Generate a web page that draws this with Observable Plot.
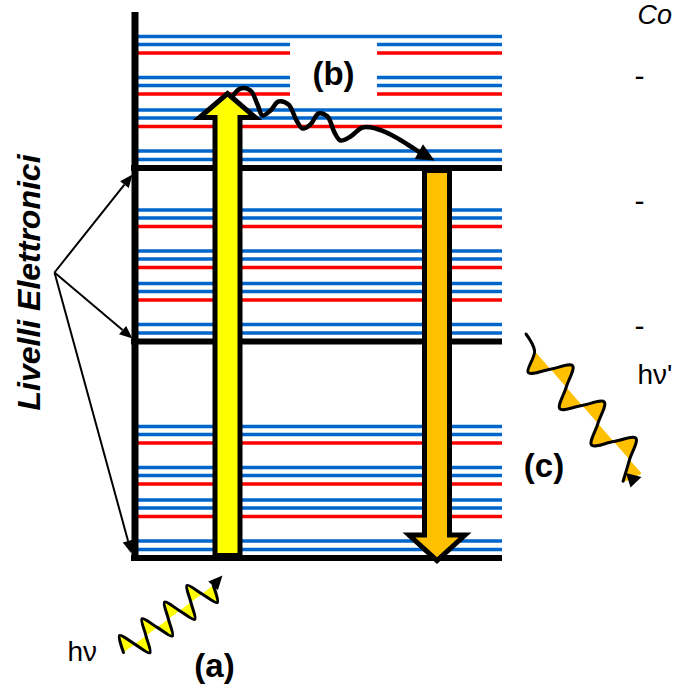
<!DOCTYPE html>
<html>
<head>
<meta charset="utf-8">
<script src="https://cdn.jsdelivr.net/npm/d3@7"></script>
<script src="https://cdn.jsdelivr.net/npm/@observablehq/plot@0.6"></script>
<style>
  html, body { margin: 0; padding: 0; background: #fff; overflow: hidden; }
  #chart svg { display: block; }
</style>
</head>
<body>
<div id="chart"></div>
<script>
// ---------- data (diagram units = pixels of the 679x685 canvas, y downward) ----------
const levelNames = ["S0", "S1", "S2"];
const levelY = [557.5, 341, 167.5];
const levelSpan = [131, 502];
const vibSpan = [137, 502];
const axisX = [134.5];
const axisSpan = [12, 560.5];

// vibrational sub-levels: distance above each electronic level
const vibOffsets = [8.5, 17, 41.5, 50, 58, 74, 82.5, 90.5, 115, 123.5, 131.5];
const vibKinds   = ["blue", "blue", "red", "blue", "blue", "red", "blue", "blue", "red", "blue", "blue"];

// label "Livelli Elettronici" and its pointers
const sideLabel = ["Livelli Elettronici"];
const sideLabelPos = [29, 282];
const pointerOrigin = [54, 272];
const pointerTips = [[132, 174], [132, 338], [131, 553]];

// absorption (yellow) and emission (orange) block arrows
const absorption = { x: 227, from: 555, to: 93 };
const emission = { x: 436.5, from: 170, to: 560 };

// (b) vibrational relaxation, wavy black arrow
const relaxPath = [[232, 96], [240, 88], [250, 90], [257, 104], [262, 115], [270, 110], [278, 101],
  [288, 104], [296, 120], [302, 128], [310, 124], [318, 113], [327, 116], [334, 132], [340, 140],
  [350, 136], [362, 127], [375, 128], [392, 135], [407, 144], [418, 151]];
const relaxTip = [434, 160];

// incoming photon hν (a)
const photonIn = [[123, 652], [119.1, 635.0], [134.2, 643.6], [149.4, 652.3], [145.5, 635.3],
  [141.5, 618.3], [156.7, 626.9], [171.9, 635.6], [167.9, 618.6], [164.0, 601.6], [179.1, 610.2],
  [194.3, 618.9], [190.4, 601.9], [186.4, 584.9], [201.6, 593.5], [216.8, 602.1], [212.8, 585.1]];
const photonInTip = [222, 575];

// emitted photon hν' (c)
const photonOut = [[525.5, 333.5], [534.1, 350.5], [527.7, 372.1], [549.9, 368.7], [572.1, 365.2],
  [565.7, 386.8], [559.3, 408.3], [581.5, 404.9], [603.8, 401.5], [597.4, 423.0], [591.0, 444.6],
  [613.2, 441.1], [635.4, 437.7], [629.0, 459.3], [622.6, 480.8]];
const photonOutAxisEnd = [641.1, 473.1];
const photonOutTip = [630, 487];

// text
const panelLabels = ["(a)", "(b)", "(c)"];
const panelX = [214, 333, 543.5];
const panelY = [676, 84, 476];
const photonLabels = ["hν", "hν'"];
const photonLabelX = [67, 637];
const photonLabelY = [660, 383];
const headingText = ["Co"];
const headingPos = [637, 23];
const bulletText = ["-", "-", "-"];
const bulletY = [85, 210, 335];
const whiteBox = [[290, 377, 39, 97]];

// ---------- helpers ----------
const FONT = "'Liberation Sans', Arial, Helvetica, sans-serif";
const BLUE = "#0066CC", RED = "#FF0000", YELLOW = "#FFFF00", ORANGE = "#FFC000";

function blockArrow(a, shaftHalf, headHalf, headLen) {
  const s = Math.sign(a.to - a.from);
  const yh = a.to - s * headLen;
  return [[a.x - shaftHalf, a.from], [a.x - shaftHalf, yh], [a.x - headHalf, yh], [a.x, a.to],
          [a.x + headHalf, yh], [a.x + shaftHalf, yh], [a.x + shaftHalf, a.from]];
}
function head(tip, from, len, half) {
  const dx = tip[0] - from[0], dy = tip[1] - from[1], L = Math.hypot(dx, dy);
  const ux = dx / L, uy = dy / L, bx = tip[0] - ux * len, by = tip[1] - uy * len;
  return { base: [bx, by], pts: [tip, [bx - uy * half, by + ux * half], [bx + uy * half, by - ux * half]] };
}
const toRows = (pts, id) => pts.map(([x, y]) => ({ x, y, id }));

const vibData = levelY.flatMap((L, li) => vibOffsets.map((o, i) => ({ y: L - o, kind: vibKinds[i], level: levelNames[li] })));

const pointerHeads = pointerTips.map(t => head(t, pointerOrigin, 13, 5.5));
const pointerLinks = pointerHeads.map(h => ({ x1: pointerOrigin[0], y1: pointerOrigin[1], x2: h.base[0], y2: h.base[1] }));

const relaxHead = head(relaxTip, relaxPath[relaxPath.length - 1], 18, 8.5);
const inHead = head(photonInTip, photonIn[photonIn.length - 1], 14, 6.5);
const outHead = head(photonOutTip, [633.5, 473.5], 13, 8);

const triRows = [
  ...pointerHeads.flatMap((h, i) => toRows(h.pts, "p" + i)),
  ...toRows(relaxHead.pts, "relax"),
  ...toRows(inHead.pts, "in"),
  ...toRows(outHead.pts, "out")
];

const relaxRows = toRows([...relaxPath, relaxHead.base], "relax");
const inFillRows = toRows(photonIn, "inFill");
const outFillRows = toRows([...photonOut.slice(1), photonOutAxisEnd], "outFill");

const chart = Plot.plot({
  width: 679,
  height: 685,
  margin: 0,
  x: { domain: [0, 679], range: [0, 679], axis: null },
  y: { domain: [0, 685], range: [0, 685], axis: null },
  style: { background: "#fff" },
  marks: [
    Plot.ruleY(vibData.filter(d => d.kind === "blue"), { y: "y", x1: () => vibSpan[0], x2: () => vibSpan[1], stroke: BLUE, strokeWidth: 3.5 }),
    Plot.ruleY(vibData.filter(d => d.kind === "red"), { y: "y", x1: () => vibSpan[0], x2: () => vibSpan[1], stroke: RED, strokeWidth: 3.5 }),
    Plot.rect(whiteBox, { x1: d => d[0], x2: d => d[1], y1: d => d[2], y2: d => d[3], fill: "#fff" }),
    Plot.ruleX(axisX, { x: d => d, y1: () => axisSpan[0], y2: () => axisSpan[1], stroke: "#000", strokeWidth: 7 }),
    Plot.ruleY(levelY, { y: d => d, x1: () => levelSpan[0], x2: () => levelSpan[1], stroke: "#000", strokeWidth: 6 }),
    Plot.line(toRows(blockArrow(absorption, 12.5, 28, 24), "abs"), { x: "x", y: "y", curve: "linear-closed", fill: YELLOW, stroke: "#000", strokeWidth: 5, strokeLinejoin: "miter", strokeMiterlimit: 10, strokeLinecap: "butt" }),
    Plot.line(toRows(blockArrow(emission, 12.5, 28, 25.5), "em"), { x: "x", y: "y", curve: "linear-closed", fill: ORANGE, stroke: "#000", strokeWidth: 5, strokeLinejoin: "miter", strokeMiterlimit: 10, strokeLinecap: "butt" }),
    Plot.line(relaxRows, { x: "x", y: "y", curve: "catmull-rom", stroke: "#000", strokeWidth: 4.5 }),
    Plot.link(pointerLinks, { x1: "x1", y1: "y1", x2: "x2", y2: "y2", stroke: "#000", strokeWidth: 2 }),
    Plot.line(inFillRows, { x: "x", y: "y", curve: "catmull-rom", fill: YELLOW, stroke: "none" }),
    Plot.line(toRows(photonIn, "in"), { x: "x", y: "y", curve: "catmull-rom", stroke: "#000", strokeWidth: 3 }),
    Plot.line(outFillRows, { x: "x", y: "y", curve: "catmull-rom", fill: ORANGE, stroke: "none" }),
    Plot.line(toRows(photonOut, "out"), { x: "x", y: "y", curve: "catmull-rom", stroke: "#000", strokeWidth: 3 }),
    Plot.line(triRows, { x: "x", y: "y", z: "id", curve: "linear-closed", fill: "#000", stroke: "none" }),
    Plot.text(sideLabel, { x: () => sideLabelPos[0], y: () => sideLabelPos[1], text: d => d, rotate: -90, fontSize: 32, fontWeight: "bold", fontStyle: "italic", fontFamily: FONT, fill: "#000", textAnchor: "middle", lineAnchor: "middle" }),
    Plot.text(panelLabels, { x: (d, i) => panelX[i], y: (d, i) => panelY[i], text: d => d, fontSize: 33, fontWeight: "bold", fontFamily: FONT, fill: "#000", textAnchor: "middle", lineAnchor: "bottom" }),
    Plot.text(photonLabels, { x: (d, i) => photonLabelX[i], y: (d, i) => photonLabelY[i], text: d => d, fontSize: 28, fontFamily: FONT, fill: "#000", textAnchor: "start", lineAnchor: "bottom" }),
    Plot.text(headingText, { x: () => headingPos[0], y: () => headingPos[1], text: d => d, fontSize: 27, fontStyle: "italic", fontFamily: FONT, fill: "#000", textAnchor: "start", lineAnchor: "bottom" }),
    Plot.text(bulletText, { x: () => 634, y: (d, i) => bulletY[i], text: d => d, fontSize: 30, fontFamily: FONT, fill: "#000", textAnchor: "start", lineAnchor: "bottom" })
  ]
});
document.getElementById("chart").appendChild(chart);
</script>
</body>
</html>
